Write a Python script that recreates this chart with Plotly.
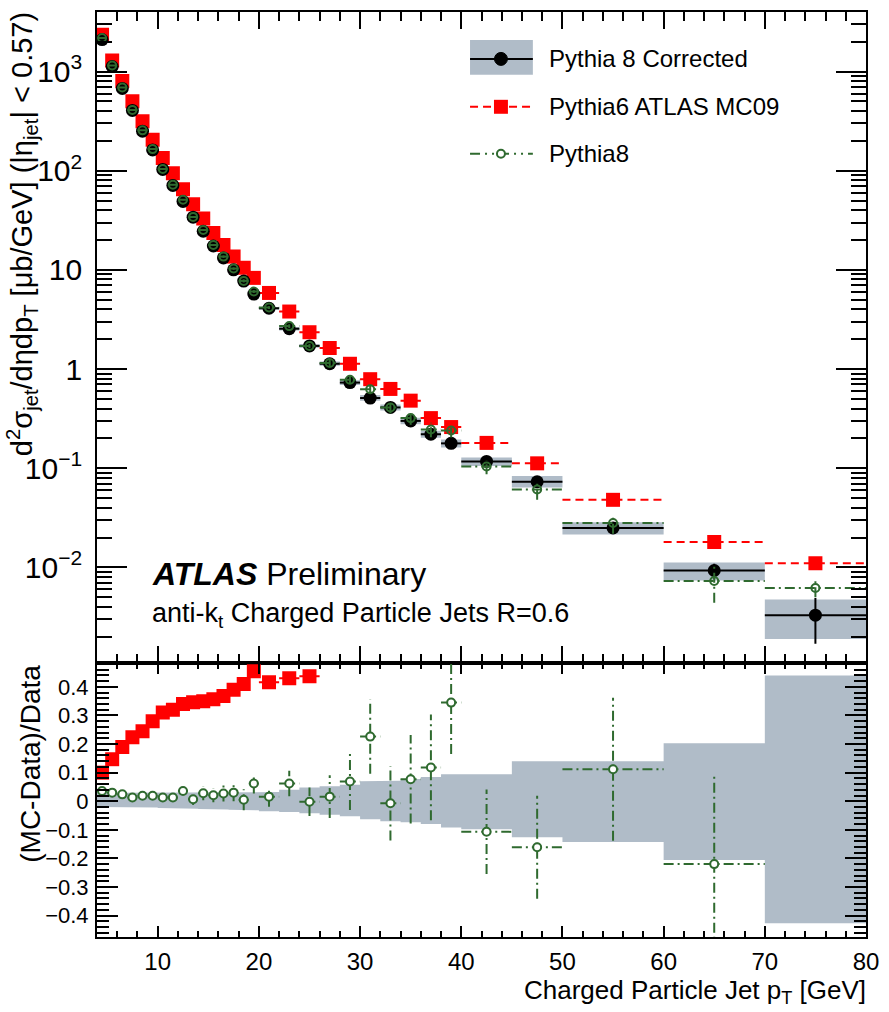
import plotly.graph_objects as go

# ---------------------------------------------------------------- data
# bin edges of charged-particle jet pT [GeV]
bin_edges = [4, 5, 6, 7, 8, 9, 10, 11, 12, 13, 14, 15, 16, 17, 18, 19, 20,
             22, 24, 26, 28, 30, 32, 34, 36, 38, 40,
             45, 50, 60, 70, 80]

# d2sigma/deta dpT [ub/GeV], |eta_jet| < 0.57
data_xs = [2100, 1120, 675, 405, 250, 162, 103, 71, 49, 34, 24.5, 17.4, 13.2, 10.0, 7.7, 5.7,
           4.1, 2.55, 1.71, 1.13, 0.73, 0.51, 0.41, 0.30, 0.22, 0.178,
           0.117, 0.073, 0.025, 0.0093, 0.0033]
data_err = [10, 5, 3, 2, 1.2, 0.8, 0.5, 0.35, 0.25, 0.18, 0.13, 0.1, 0.08, 0.06, 0.05, 0.04,
            0.03, 0.025, 0.02, 0.015, 0.012, 0.01, 0.009, 0.008, 0.007, 0.006,
            0.004, 0.003, 0.0012, 0.0016, 0.0016]
# relative systematic band of the corrected data (upper / lower)
band_up = [0.04, 0.035, 0.03, 0.03, 0.03, 0.03, 0.03, 0.03, 0.03, 0.03, 0.03, 0.03, 0.03, 0.03, 0.03, 0.03,
           0.032, 0.04, 0.048, 0.052, 0.058, 0.07, 0.072, 0.078, 0.085, 0.094,
           0.094, 0.14, 0.14, 0.203, 0.44]
band_dn = [0.02, 0.02, 0.02, 0.02, 0.022, 0.022, 0.024, 0.025, 0.025, 0.026, 0.027, 0.028, 0.029, 0.03, 0.03, 0.032,
           0.035, 0.038, 0.042, 0.047, 0.053, 0.063, 0.07, 0.074, 0.08, 0.092,
           0.098, 0.126, 0.143, 0.206, 0.427]

# Pythia6 ATLAS MC09
mc09_xs = [2350, 1290, 800, 500, 315, 205, 134, 94, 65, 46, 33, 23.5, 17.8, 13.6, 10.5, 8.3,
           5.85, 3.8, 2.35, 1.63, 1.13, 0.79, 0.63, 0.48, 0.32, 0.26,
           0.18, 0.112, 0.048, 0.018, 0.011]
mc09_ratio = [0.10, 0.147, 0.19, 0.224, 0.245, 0.28, 0.31, 0.32, 0.34, 0.346, 0.35, 0.357, 0.368, 0.39, 0.41, 0.455,
              0.416, 0.43, 0.437]

# Pythia8
py8_xs = [2180, 1150, 690, 410, 255, 165, 104, 72, 51, 34.2, 25.2, 17.8, 13.6, 10.3, 7.74, 6.05,
          4.17, 2.71, 1.71, 1.15, 0.78, 0.625, 0.41, 0.32, 0.246, 0.24,
          0.104, 0.061, 0.028, 0.0073, 0.0062]
py8_err = [22, 9, 5.5, 4, 2.5, 1.6, 1.2, 0.85, 0.7, 0.7, 0.6, 0.45, 0.38, 0.3, 0.28, 0.2,
           0.14, 0.12, 0.085, 0.085, 0.073, 0.066, 0.053, 0.046, 0.041, 0.036,
           0.017, 0.013, 0.0062, 0.0029, 0.0012]
py8_ratio = [0.036, 0.030, 0.024, 0.013, 0.019, 0.019, 0.013, 0.013, 0.036, 0.007, 0.028, 0.021, 0.027, 0.030, 0.005, 0.062,
             0.016, 0.062, -0.002, 0.016, 0.069, 0.226, -0.007, 0.077, 0.118, 0.345,
             -0.107, -0.161, 0.112, -0.22]
py8_ratio_err = [0.01, 0.008, 0.008, 0.01, 0.01, 0.01, 0.012, 0.012, 0.014, 0.02, 0.025, 0.025, 0.028, 0.03, 0.037, 0.035,
                 0.035, 0.045, 0.05, 0.075, 0.1, 0.13, 0.13, 0.155, 0.185, 0.18,
                 0.148, 0.18, 0.25, 0.31]

bin_lo = bin_edges[:-1]
bin_hi = bin_edges[1:]
pt = [(a + b) / 2 for a, b in zip(bin_lo, bin_hi)]
half_w = [(b - a) / 2 for a, b in zip(bin_lo, bin_hi)]

# ---------------------------------------------------------------- style
W, H = 889, 1012
ML, MR, MT, MB = 97, 21, 10, 75
FONT = "Liberation Sans, Arial, sans-serif"
GRAY = "#b0bcc8"
RED = "#ff0000"
GREEN = "#2f6a2f"
DASH_RED = "8px,5px"
DASH_GREEN = "10px,4px,2px,4px"


def fx(px):
    return (px - ML) / (W - ML - MR)


def fy(py):
    return (H - MB - py) / (H - MT - MB)


SPLIT = fy(662)


def hsegs(lo, hi, vals):
    xs, ys = [], []
    for a, b, v in zip(lo, hi, vals):
        xs += [a, b, None]
        ys += [v, v, None]
    return xs, ys


def vsegs(xc, vals, errs, positive=False):
    xs, ys = [], []
    for x, v, e in zip(xc, vals, errs):
        low = v - e
        if positive and low <= 0:
            low = v * 0.3
        xs += [x, x, None]
        ys += [low, v + e, None]
    return xs, ys


def boxes(lo, hi, ylo, yhi):
    xs, ys = [], []
    for a, b, c, d in zip(lo, hi, ylo, yhi):
        xs += [a, b, b, a, a, None]
        ys += [c, c, d, d, c, None]
    return xs, ys


fig = go.Figure()

# ---------------------------------------------------------------- top panel
bx, by = boxes(bin_lo, bin_hi,
               [v * (1 - d) for v, d in zip(data_xs, band_dn)],
               [v * (1 + u) for v, u in zip(data_xs, band_up)])
fig.add_trace(go.Scatter(x=bx, y=by, fill="toself", fillcolor=GRAY, mode="lines",
                         line=dict(width=0, color=GRAY), xaxis="x", yaxis="y",
                         hoverinfo="skip", showlegend=False))

# Pythia6 MC09: dashed bin-width lines and squares
sx, sy = hsegs(bin_lo, bin_hi, mc09_xs)
fig.add_trace(go.Scatter(x=sx, y=sy, mode="lines", line=dict(color=RED, width=2, dash=DASH_RED),
                         xaxis="x", yaxis="y", showlegend=False, hoverinfo="skip"))
fig.add_trace(go.Scatter(x=pt, y=mc09_xs, mode="markers",
                         marker=dict(symbol="square", size=14, color=RED),
                         xaxis="x", yaxis="y", showlegend=False))

# corrected data: black points with bin-width and statistical error bars
fig.add_trace(go.Scatter(x=pt, y=data_xs, mode="markers",
                         marker=dict(symbol="circle", size=13, color="black"),
                         error_x=dict(type="data", array=half_w, color="black", thickness=2, width=0),
                         error_y=dict(type="data", array=data_err, color="black", thickness=2, width=0),
                         xaxis="x", yaxis="y", showlegend=False))

# Pythia8: dash-dot error lines and open markers
gx, gy = hsegs(bin_lo, bin_hi, py8_xs)
vx, vy = vsegs(pt, py8_xs, py8_err, positive=True)
fig.add_trace(go.Scatter(x=gx + vx, y=gy + vy, mode="lines",
                         line=dict(color=GREEN, width=2, dash=DASH_GREEN),
                         xaxis="x", yaxis="y", showlegend=False, hoverinfo="skip"))
fig.add_trace(go.Scatter(x=pt, y=py8_xs, mode="markers",
                         marker=dict(symbol="circle-open", size=8, color=GREEN, line=dict(width=2, color=GREEN)),
                         xaxis="x", yaxis="y", showlegend=False))

# ---------------------------------------------------------------- ratio panel
px_band, py_band = [], []
for a, b, u in zip(bin_lo, bin_hi, band_up):
    px_band += [a, b]
    py_band += [u, u]
for a, b, d in reversed(list(zip(bin_lo, bin_hi, band_dn))):
    px_band += [b, a]
    py_band += [-d, -d]
fig.add_trace(go.Scatter(x=px_band, y=py_band, fill="toself", fillcolor=GRAY, mode="lines",
                         line=dict(width=0, color=GRAY), xaxis="x2", yaxis="y2",
                         hoverinfo="skip", showlegend=False))

n_red = len(mc09_ratio)
rx, ry = hsegs(bin_lo[:n_red], bin_hi[:n_red], mc09_ratio)
fig.add_trace(go.Scatter(x=rx, y=ry, mode="lines", line=dict(color=RED, width=2, dash=DASH_RED),
                         xaxis="x2", yaxis="y2", showlegend=False, hoverinfo="skip"))
fig.add_trace(go.Scatter(x=pt[:n_red], y=mc09_ratio, mode="markers",
                         marker=dict(symbol="square", size=14, color=RED),
                         xaxis="x2", yaxis="y2", showlegend=False))

n_g = len(py8_ratio)
gx2, gy2 = hsegs(bin_lo[:n_g], bin_hi[:n_g], py8_ratio)
vx2, vy2 = vsegs(pt[:n_g], py8_ratio, py8_ratio_err)
fig.add_trace(go.Scatter(x=gx2 + vx2, y=gy2 + vy2, mode="lines",
                         line=dict(color=GREEN, width=2, dash=DASH_GREEN),
                         xaxis="x2", yaxis="y2", showlegend=False, hoverinfo="skip"))
fig.add_trace(go.Scatter(x=pt[:n_g], y=py8_ratio, mode="markers",
                         marker=dict(symbol="circle", size=8, color="white", line=dict(width=2, color=GREEN)),
                         xaxis="x2", yaxis="y2", showlegend=False))

# ---------------------------------------------------------------- axes
common_x = dict(range=[4, 80], tick0=0, dtick=10, ticks="inside", tickwidth=2, tickcolor="black",
                showline=True, linewidth=2, linecolor="black", mirror="allticks",
                showgrid=False, zeroline=False)
fig.update_layout(
    width=W, height=H,
    margin=dict(l=ML, r=MR, t=MT, b=MB),
    paper_bgcolor="white", plot_bgcolor="white",
    font=dict(family=FONT, color="black", size=22),
    xaxis=dict(**common_x, domain=[0, 1], anchor="y", ticklen=17, showticklabels=False,
               minor=dict(dtick=2, ticklen=9, tickwidth=2, ticks="inside", tickcolor="black")),
    yaxis=dict(type="log", range=[-2.96, 3.60], domain=[SPLIT, 1], anchor="x", dtick=1,
               exponentformat="power", ticks="inside", ticklen=30, tickwidth=2, tickcolor="black",
               minor=dict(dtick="D1", ticklen=15, tickwidth=2, ticks="inside", tickcolor="black"),
               showline=True, linewidth=2, linecolor="black", mirror="allticks",
               showgrid=False, zeroline=False, ticklabelstandoff=8,
               tickfont=dict(size=24)),
    xaxis2=dict(**common_x, domain=[0, 1], anchor="y2", ticklen=11, matches="x",
                minor=dict(dtick=2, ticklen=6, tickwidth=2, ticks="inside", tickcolor="black"),
                tickfont=dict(size=24), ticklabelstandoff=2),
    yaxis2=dict(range=[-0.475, 0.485], domain=[0, SPLIT], anchor="x2", dtick=0.1, tick0=0,
                ticks="inside", ticklen=21, tickwidth=2, tickcolor="black",
                minor=dict(dtick=0.02, ticklen=12, tickwidth=2, ticks="inside", tickcolor="black"),
                showline=True, linewidth=2, linecolor="black", mirror="allticks",
                showgrid=False, zeroline=False, ticklabelstandoff=2,
                tickfont=dict(size=22)),
)

# ---------------------------------------------------------------- titles and labels
ann = []
ann.append(dict(text="d<sup>2</sup>σ<sub>jet</sub>/dηdp<sub>T</sub> [μb/GeV] (|η<sub>jet</sub>| &lt; 0.57)",
                xref="paper", yref="paper", x=fx(22), y=fy(8), xanchor="center", yanchor="top",
                textangle=-90, showarrow=False, font=dict(size=29)))
ann.append(dict(text="(MC-Data)/Data", xref="paper", yref="paper", x=fx(30), y=fy(662),
                xanchor="center", yanchor="top", textangle=-90, showarrow=False, font=dict(size=28)))
ann.append(dict(text="Charged Particle Jet p<sub>T</sub> [GeV]", xref="paper", yref="paper",
                x=fx(870), y=fy(1010), xanchor="right", yanchor="bottom", showarrow=False,
                font=dict(size=26)))
ann.append(dict(text="<b><i>ATLAS</i></b> Preliminary", xref="paper", yref="paper",
                x=fx(150), y=fy(573), xanchor="left", yanchor="middle", showarrow=False,
                font=dict(size=32)))
ann.append(dict(text="anti-k<sub>t</sub> Charged Particle Jets R=0.6", xref="paper", yref="paper",
                x=fx(150), y=fy(614), xanchor="left", yanchor="middle", showarrow=False,
                font=dict(size=27)))

# legend
legend_rows = [("Pythia 8 Corrected", 57), ("Pythia6 ATLAS MC09", 105), ("Pythia8", 152)]
for label, yrow in legend_rows:
    ann.append(dict(text=label, xref="paper", yref="paper", x=fx(548), y=fy(yrow),
                    xanchor="left", yanchor="middle", showarrow=False, font=dict(size=24)))

shapes = []
shapes.append(dict(type="rect", xref="paper", yref="paper", x0=fx(471), x1=fx(534), y0=fy(73), y1=fy(38),
                   fillcolor=GRAY, line=dict(width=0), layer="above"))
shapes.append(dict(type="line", xref="paper", yref="paper", x0=fx(471), x1=fx(534), y0=fy(57), y1=fy(57),
                   line=dict(color="black", width=2)))
shapes.append(dict(type="circle", xref="paper", yref="paper", x0=fx(495.5), x1=fx(508.5), y0=fy(63.5), y1=fy(50.5),
                   fillcolor="black", line=dict(color="black", width=1)))
shapes.append(dict(type="line", xref="paper", yref="paper", x0=fx(471), x1=fx(534), y0=fy(105), y1=fy(105),
                   line=dict(color=RED, width=2, dash=DASH_RED)))
shapes.append(dict(type="rect", xref="paper", yref="paper", x0=fx(495), x1=fx(509), y0=fy(112), y1=fy(98),
                   fillcolor=RED, line=dict(width=0)))
shapes.append(dict(type="line", xref="paper", yref="paper", x0=fx(471), x1=fx(534), y0=fy(152), y1=fy(152),
                   line=dict(color=GREEN, width=2, dash="10px,5px,2px,5px,2px,5px")))
shapes.append(dict(type="circle", xref="paper", yref="paper", x0=fx(498), x1=fx(506), y0=fy(156), y1=fy(148),
                   fillcolor="white", line=dict(color=GREEN, width=2)))

fig.update_layout(annotations=ann, shapes=shapes)

fig.write_html("out.html")
